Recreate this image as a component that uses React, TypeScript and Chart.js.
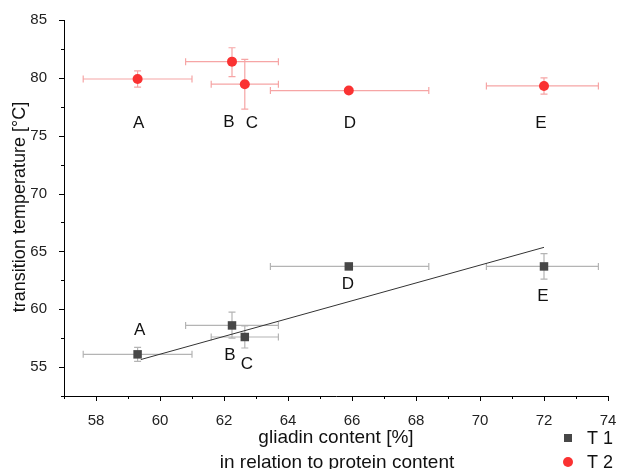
import React, { useEffect, useRef } from "react";
import { Chart, registerables } from "chart.js";

Chart.register(...registerables);

const labels = ["A", "B", "C", "D", "E"];
const gliadin = [59.3, 62.25, 62.65, 65.9, 72.0];
const gliadinErrLow = [57.6, 60.8, 61.6, 63.45, 70.2];
const gliadinErrHigh = [61.0, 63.7, 63.7, 68.4, 73.7];

const t1 = [56.1, 58.6, 57.6, 63.7, 63.7];
const t1ErrLow = [55.5, 57.5, 56.65, 63.7, 62.6];
const t1ErrHigh = [56.7, 59.75, 58.55, 63.7, 64.8];

const t2 = [79.9, 81.4, 79.45, 78.9, 79.3];
const t2ErrLow = [79.2, 80.1, 77.3, 78.9, 78.6];
const t2ErrHigh = [80.6, 82.6, 81.6, 78.9, 80.0];

const fitX = [59.4, 72.0];
const fitY = [55.65, 65.35];

const xTicks = [58, 60, 62, 64, 66, 68, 70, 72, 74];
const xMinorTicks = [57, 59, 61, 63, 65, 67, 69, 71, 73];
const yTicks = [55, 60, 65, 70, 75, 80, 85];
const yMinorTicks = [52.5, 57.5, 62.5, 67.5, 72.5, 77.5, 82.5];

// label pixel offsets (style)
const t2LabelOffsets = [[1, 44], [-3, 61], [7, 39], [1, 33], [-3, 37]];
const t1LabelOffsets = [[2, -24], [-2, 30], [2, 27], [-1, 18], [-1, 30]];

const FONT = "'Liberation Sans', Arial, sans-serif";
const T1_COLOR = "#474747";
const T2_COLOR = "#fa3232";
const T1_ERR = "#b4b4b4";
const T2_ERR = "#f6a5a5";

export default function App() {
  const ref = useRef<HTMLCanvasElement>(null);

  useEffect(() => {
    const canvas = ref.current!;
    const errPlugin = {
      id: "errbars",
      beforeDatasetsDraw(chart: any) {
        const ctx = chart.ctx;
        const xs = chart.scales.x;
        const ys = chart.scales.y;
        const draw = (yv: number[], lo: number[], hi: number[], color: string) => {
          ctx.save();
          ctx.strokeStyle = color;
          ctx.lineWidth = 1.2;
          for (let i = 0; i < gliadin.length; i++) {
            const px = xs.getPixelForValue(gliadin[i]);
            const py = ys.getPixelForValue(yv[i]);
            const x1 = xs.getPixelForValue(gliadinErrLow[i]);
            const x2 = xs.getPixelForValue(gliadinErrHigh[i]);
            ctx.beginPath();
            ctx.moveTo(x1, py); ctx.lineTo(x2, py);
            ctx.moveTo(x1, py - 3.5); ctx.lineTo(x1, py + 3.5);
            ctx.moveTo(x2, py - 3.5); ctx.lineTo(x2, py + 3.5);
            ctx.stroke();
            if (hi[i] !== lo[i]) {
              const y1 = ys.getPixelForValue(lo[i]);
              const y2 = ys.getPixelForValue(hi[i]);
              ctx.beginPath();
              ctx.moveTo(px, y1); ctx.lineTo(px, y2);
              ctx.moveTo(px - 3.5, y1); ctx.lineTo(px + 3.5, y1);
              ctx.moveTo(px - 3.5, y2); ctx.lineTo(px + 3.5, y2);
              ctx.stroke();
            }
          }
          ctx.restore();
        };
        draw(t1, t1ErrLow, t1ErrHigh, T1_ERR);
        draw(t2, t2ErrLow, t2ErrHigh, T2_ERR);
      },
      afterDraw(chart: any) {
        const ctx = chart.ctx;
        const xs = chart.scales.x;
        const ys = chart.scales.y;
        const ca = chart.chartArea;
        ctx.save();
        // tick marks
        ctx.strokeStyle = "#000";
        ctx.lineWidth = 1;
        ctx.beginPath();
        for (const v of xTicks) {
          const p = Math.round(xs.getPixelForValue(v)) + 0.5;
          ctx.moveTo(p, ca.bottom); ctx.lineTo(p, ca.bottom + 5);
        }
        for (const v of xMinorTicks) {
          const p = Math.round(xs.getPixelForValue(v)) + 0.5;
          ctx.moveTo(p, ca.bottom); ctx.lineTo(p, ca.bottom + 3);
        }
        for (const v of yTicks) {
          const p = Math.round(ys.getPixelForValue(v)) + 0.5;
          ctx.moveTo(ca.left, p); ctx.lineTo(ca.left - 5, p);
        }
        for (const v of yMinorTicks) {
          const p = Math.round(ys.getPixelForValue(v)) + 0.5;
          ctx.moveTo(ca.left, p); ctx.lineTo(ca.left - 3, p);
        }
        ctx.stroke();

        // point letters
        ctx.fillStyle = "#111";
        ctx.font = `17px ${FONT}`;
        ctx.textAlign = "center";
        ctx.textBaseline = "middle";
        for (let i = 0; i < labels.length; i++) {
          const px = xs.getPixelForValue(gliadin[i]);
          ctx.fillText(labels[i], px + t2LabelOffsets[i][0], ys.getPixelForValue(t2[i]) + t2LabelOffsets[i][1]);
          ctx.fillText(labels[i], px + t1LabelOffsets[i][0], ys.getPixelForValue(t1[i]) + t1LabelOffsets[i][1]);
        }

        // axis titles
        ctx.fillStyle = "#111";
        ctx.font = `19px ${FONT}`;
        ctx.fillText("gliadin content [%]", 336, 438);
        ctx.fillText("in relation to protein content", 337, 463);
        ctx.save();
        ctx.font = `18px ${FONT}`;
        ctx.translate(20, 207);
        ctx.rotate(-Math.PI / 2);
        ctx.fillText("transition temperature [°C]", 0, 0);
        ctx.restore();

        // legend
        ctx.fillStyle = T1_COLOR;
        ctx.fillRect(564, 434, 8, 8);
        ctx.fillStyle = T2_COLOR;
        ctx.beginPath();
        ctx.arc(568, 462, 5, 0, Math.PI * 2);
        ctx.fill();
        ctx.fillStyle = "#111";
        ctx.font = `18px ${FONT}`;
        ctx.textAlign = "left";
        ctx.fillText("T 1", 587, 439);
        ctx.fillText("T 2", 587, 463);
        ctx.restore();
      },
    };

    const chart = new Chart(canvas, {
      type: "scatter",
      data: {
        datasets: [
          {
            type: "line",
            label: "fit",
            data: fitX.map((x, i) => ({ x, y: fitY[i] })),
            borderColor: "#333",
            borderWidth: 1,
            pointRadius: 0,
            order: 3,
          },
          {
            label: "T 1",
            data: gliadin.map((x, i) => ({ x, y: t1[i] })),
            pointStyle: "rect",
            pointRadius: 6,
            backgroundColor: T1_COLOR,
            borderWidth: 0,
            order: 2,
          },
          {
            label: "T 2",
            data: gliadin.map((x, i) => ({ x, y: t2[i] })),
            pointStyle: "circle",
            pointRadius: 5,
            backgroundColor: T2_COLOR,
            borderWidth: 0,
            order: 1,
          },
        ] as any,
      },
      options: {
        animation: false,
        responsive: false,
        devicePixelRatio: 1,
        layout: { padding: { top: 20, right: 9, left: 0, bottom: 0 } },
        plugins: { legend: { display: false }, tooltip: { enabled: false } },
        scales: {
          x: {
            type: "linear",
            min: 57,
            max: 74,
            grid: { display: false },
            border: { display: true, color: "#000", width: 1 },
            ticks: { font: { size: 15, family: FONT }, color: "#222", padding: 8 },
            afterBuildTicks: (s: any) => { s.ticks = xTicks.map((v) => ({ value: v })); },
            afterFit: (s: any) => { s.height = 73; s.paddingLeft = 0; s.paddingRight = 0; },
          },
          y: {
            type: "linear",
            min: 52.5,
            max: 85,
            grid: { display: false },
            border: { display: true, color: "#000", width: 1 },
            ticks: { font: { size: 15, family: FONT }, color: "#222", padding: 9 },
            afterBuildTicks: (s: any) => { s.ticks = yTicks.map((v) => ({ value: v })); },
            afterFit: (s: any) => { s.width = 64; s.paddingTop = 0; s.paddingBottom = 0; },
          },
        },
      } as any,
      plugins: [errPlugin],
    });
    return () => chart.destroy();
  }, []);

  return (
    <div style={{ position: "fixed", left: 0, top: 0, width: 617, height: 469, background: "#fff" }}>
      <canvas ref={ref} width={617} height={469} />
    </div>
  );
}
